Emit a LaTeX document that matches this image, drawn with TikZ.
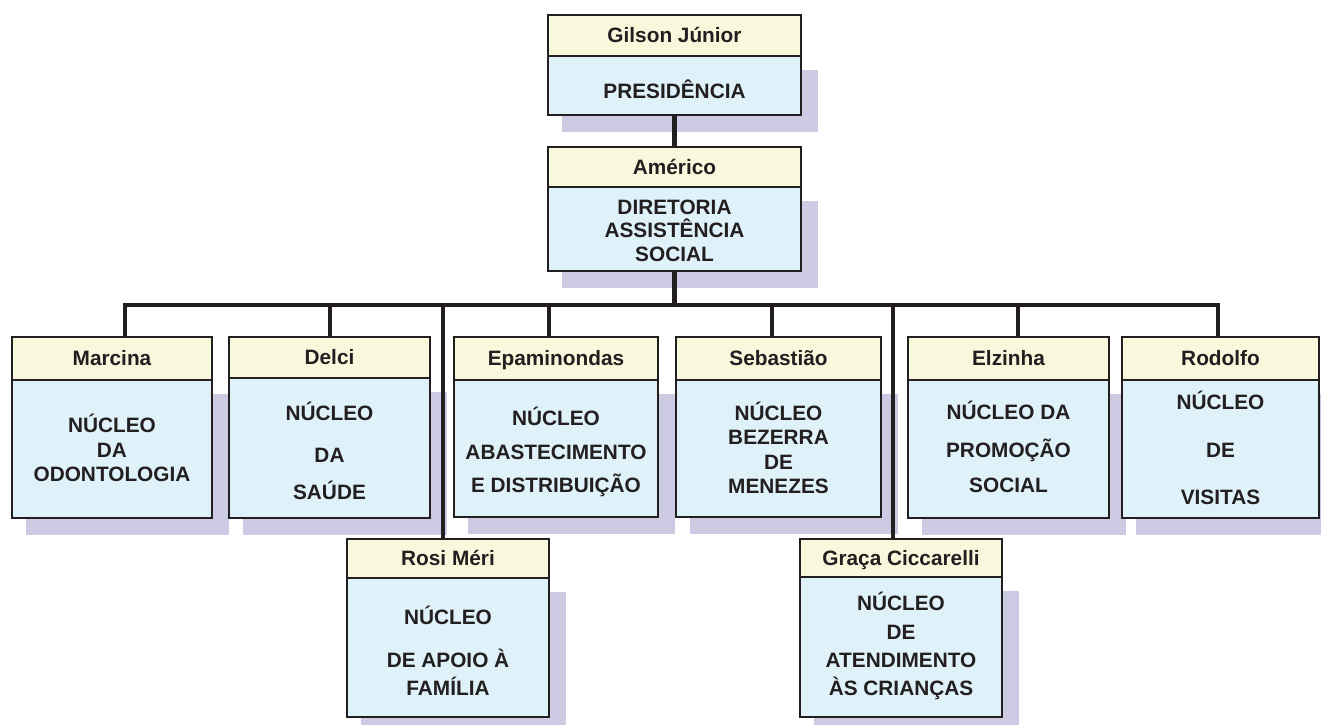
\documentclass[tikz,border=0pt]{standalone}
\usepackage{fontspec}
\setmainfont{Liberation Sans}
\definecolor{ink}{HTML}{231F20}
\definecolor{hdrfill}{HTML}{F8F8DC}
\definecolor{bodyfill}{HTML}{DFF1F9}
\definecolor{shadowfill}{HTML}{CDCAE4}
\newcommand{\orgshadow}[4]{\fill[shadowfill] (#1+14,#3+14) rectangle (#2+17,#4+17);}
\newcommand{\orgunit}[8]{%
  \node[hdr, minimum width=#3-#2, minimum height=#5-#4] (#1) at ({(#2+#3)/2},{(#4+#5)/2}) {#7};
  \node[bodybox, minimum width=#3-#2, minimum height=#6-#5] (#1-body) at ({(#2+#3)/2},{(#5+#6)/2}) {};
  \foreach \yy/\txt [count=\i] in {#8} {\node[txtline] (#1-l\i) at ({(#2+#3)/2},\yy+7.4) {\txt};}
}
\begin{document}
\begin{tikzpicture}[x=1pt,y=-1pt,
  framebox/.style={draw=ink, line width=2.5pt, inner sep=0pt, outer sep=0pt, rectangle},
  hdr/.style={framebox, fill=hdrfill, font=\bfseries\fontsize{20.8}{24}\selectfont, text=ink, text height=14.9pt, text depth=0pt},
  bodybox/.style={framebox, fill=bodyfill},
  txtline/.style={font=\bfseries\fontsize{20.8}{24}\selectfont, text=ink, anchor=base, inner sep=0pt},
  conn/.style={draw=ink, line width=4.5pt, line join=miter},
]
\useasboundingbox (0,0) rectangle (1321,724);
\clip (0,0) rectangle (1321,724);
% shadows
\orgshadow{548}{801}{56}{115}
\orgshadow{548}{801}{187}{271}
\orgshadow{12}{212}{380}{518}
\orgshadow{229}{430}{378}{518}
\orgshadow{454}{658}{380}{517}
\orgshadow{676}{881}{380}{517}
\orgshadow{908}{1109}{380}{518}
\orgshadow{1122}{1319}{380}{518}
\orgshadow{347}{549}{578}{717}
\orgshadow{800}{1002}{577}{717}
% boxes
\orgunit{gilson}{548}{801}{15}{56}{115}{Gilson Júnior}{91/PRESIDÊNCIA}
\orgunit{americo}{548}{801}{147}{187}{271}{Américo}{207/DIRETORIA,230/ASSISTÊNCIA,254/SOCIAL}
\orgunit{marcina}{12}{212}{337}{380}{518}{Marcina}{425/NÚCLEO,450/DA,474/ODONTOLOGIA}
\orgunit{delci}{229}{430}{337}{378}{518}{Delci}{413/NÚCLEO,455/DA,492/SAÚDE}
\orgunit{epaminondas}{454}{658}{337}{380}{517}{Epaminondas}{418/NÚCLEO,452/ABASTECIMENTO,485/E DISTRIBUIÇÃO}
\orgunit{sebastiao}{676}{881}{337}{380}{517}{Sebastião}{413/NÚCLEO,437/BEZERRA,462/DE,486/MENEZES}
\orgunit{elzinha}{908}{1109}{337}{380}{518}{Elzinha}{412/NÚCLEO DA,450/PROMOÇÃO,485/SOCIAL}
\orgunit{rodolfo}{1122}{1319}{337}{380}{518}{Rodolfo}{402/NÚCLEO,450/DE,497/VISITAS}
\orgunit{rosi}{347}{549}{539}{578}{717}{Rosi Méri}{617/NÚCLEO,660/DE APOIO À,688/FAMÍLIA}
\orgunit{graca}{800}{1002}{539}{577}{717}{Graça Ciccarelli}{603/NÚCLEO,632/DE,660/ATENDIMENTO,688/ÀS CRIANÇAS}
% connection points
\coordinate (bus) at (0,305);
\coordinate (marcina-in) at (125,337);
\coordinate (delci-in) at (330,337);
\coordinate (rosi-in) at (443,539);
\coordinate (epaminondas-in) at (549,337);
\coordinate (sebastiao-in) at (772,337);
\coordinate (graca-in) at (893,539);
\coordinate (elzinha-in) at (1018,337);
\coordinate (rodolfo-in) at (1218,337);
% connectors
\draw[conn] (gilson-body.south) -- (americo.north);
\draw[conn] (americo-body.south) -- (americo-body.south |- bus);
\draw[conn] (marcina-in) -- (marcina-in |- bus) -- (rodolfo-in |- bus) -- (rodolfo-in);
\draw[conn] (delci-in |- bus) -- (delci-in);
\draw[conn] (rosi-in |- bus) -- (rosi-in);
\draw[conn] (epaminondas-in |- bus) -- (epaminondas-in);
\draw[conn] (sebastiao-in |- bus) -- (sebastiao-in);
\draw[conn] (graca-in |- bus) -- (graca-in);
\draw[conn] (elzinha-in |- bus) -- (elzinha-in);
\end{tikzpicture}
\end{document}
